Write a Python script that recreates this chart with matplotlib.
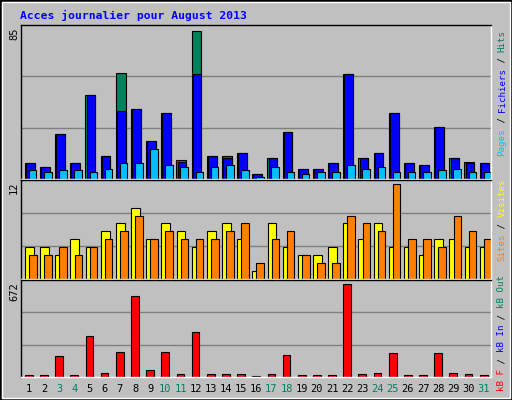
import matplotlib
matplotlib.use("Agg")
import matplotlib.pyplot as plt
import matplotlib.patches as patches
import numpy as np

days = list(range(1, 32))
weekend = [3, 4, 10, 11, 17, 18, 24, 25, 31]

hits = [9, 7, 26, 9, 48, 13, 61, 40, 22, 38, 11, 85, 13, 13, 15, 3,
        12, 27, 6, 6, 9, 60, 12, 15, 38, 9, 8, 30, 12, 10, 9]
files = [9, 7, 26, 9, 48, 13, 39, 40, 22, 38, 10, 60, 13, 12, 15, 3,
         12, 27, 6, 6, 9, 60, 12, 15, 38, 9, 8, 30, 12, 9, 9]
pages = [5, 4, 5, 5, 4, 6, 9, 9, 17, 8, 7, 4, 7, 8, 5, 1,
         7, 4, 3, 4, 4, 8, 6, 7, 4, 4, 4, 5, 6, 4, 4]
visits = [4, 4, 3, 5, 4, 6, 7, 9, 5, 7, 6, 4, 6, 7, 5, 1,
          7, 4, 3, 3, 4, 7, 5, 7, 4, 4, 3, 5, 5, 4, 4]
sites = [3, 3, 4, 3, 4, 5, 6, 8, 5, 6, 5, 5, 5, 6, 7, 2,
         5, 6, 3, 2, 2, 8, 7, 6, 12, 5, 5, 4, 8, 6, 5]
kbytes = [17, 17, 152, 17, 292, 32, 179, 584, 54, 179, 25, 326, 25, 25, 25, 8,
          25, 157, 17, 17, 17, 672, 25, 32, 172, 17, 17, 172, 32, 25, 17]

BG = "#c0c0c0"
W, H = 512, 400
fig = plt.figure(figsize=(W / 100, H / 100), dpi=100)
fig.patch.set_facecolor(BG)
mono = "DejaVu Sans Mono"

def px_axes(x0, y0, x1, y1):
    ax = fig.add_axes([x0 / W, 1 - y1 / H, (x1 - x0) / W, (y1 - y0) / H])
    ax.set_facecolor(BG)
    ax.set_xticks([])
    ax.set_yticks([])
    for s in ax.spines.values():
        s.set_color("black")
        s.set_linewidth(1)
    ax.spines["right"].set_color("white")
    ax.spines["bottom"].set_color("white")
    ax.set_xlim(0, 31)
    return ax

def panel(ax, vmax, series):
    ax.set_ylim(0, vmax * 1.04)
    for g in (vmax / 3, 2 * vmax / 3):
        ax.axhline(g * 1.04, color="#808080", lw=1, zorder=0)
    x = np.arange(31)
    for vals, color, a, b in series:
        ax.bar(x + a, vals, width=b - a, align="edge", color=color,
               edgecolor="black", linewidth=0.8, zorder=2)

ax1 = px_axes(21, 25, 491, 179)
panel(ax1, 85, [(hits, "#00805c", 0.25, 0.9), (files, "#0000ff", 0.33, 0.9),
                (pages, "#00c0ff", 0.52, 1.02)])
ax2 = px_axes(21, 180, 491, 279)
panel(ax2, 12, [(visits, "#ffff00", 0.26, 0.84), (sites, "#ff8000", 0.53, 1.03)])
ax3 = px_axes(21, 280, 491, 377)
panel(ax3, 672, [(kbytes, "#ff0000", 0.26, 0.77)])

# title
fig.text(20 / W, 1 - 15 / H, "Acces journalier pour August 2013", color="#0000ff",
         family=mono, fontweight="bold", fontsize=8.2, va="center", ha="left")

# max values
for lab, ytop in (("85", 28), ("12", 181), ("672", 282)):
    fig.text(14 / W, 1 - ytop / H, lab, rotation=90, family=mono, fontsize=7.5,
             ha="center", va="top")

# day labels
slot = 470 / 31
for i, d in enumerate(days):
    xc = 21 + slot * (i + 0.52)
    fig.text(xc / W, 1 - 389 / H, str(d), family=mono, fontsize=7.5,
             ha="center", va="center",
             color="#00805c" if d in weekend else "black")

# right side legends, reading bottom to top
def vlegend(pieces, ystart, x=502, fs=6.6):
    step = 0.6 * fs * 100 / 72
    y = ystart
    for txt, col in pieces:
        fig.text(x / W, 1 - y / H, txt, rotation=90, family=mono, fontsize=fs,
                 color=col, ha="center", va="bottom")
        y -= step * len(txt)

vlegend([("Pages", "#00c0ff"), (" / ", "black"), ("Fichiers", "#0000ff"),
         (" / ", "black"), ("Hits", "#00805c")], 156)
vlegend([("Sites", "#ff8000"), (" / ", "black"), ("Visites", "#ffff00")], 261)
vlegend([("kB F", "#ff0000"), (" / ", "black"), ("kB In", "#0000ff"),
         (" / ", "black"), ("kB Out", "#00805c")], 391)

# frame around the image
fig.patches.append(patches.Rectangle((0, 0), 1, 1, transform=fig.transFigure,
                                     fill=False, edgecolor="black", lw=2))
fig.patches.append(patches.Rectangle((2 / W, 2 / H), 1 - 4 / W, 1 - 4 / H,
                                     transform=fig.transFigure, fill=False,
                                     edgecolor="white", lw=1))

fig.savefig("out.png", dpi=100, facecolor=BG)
